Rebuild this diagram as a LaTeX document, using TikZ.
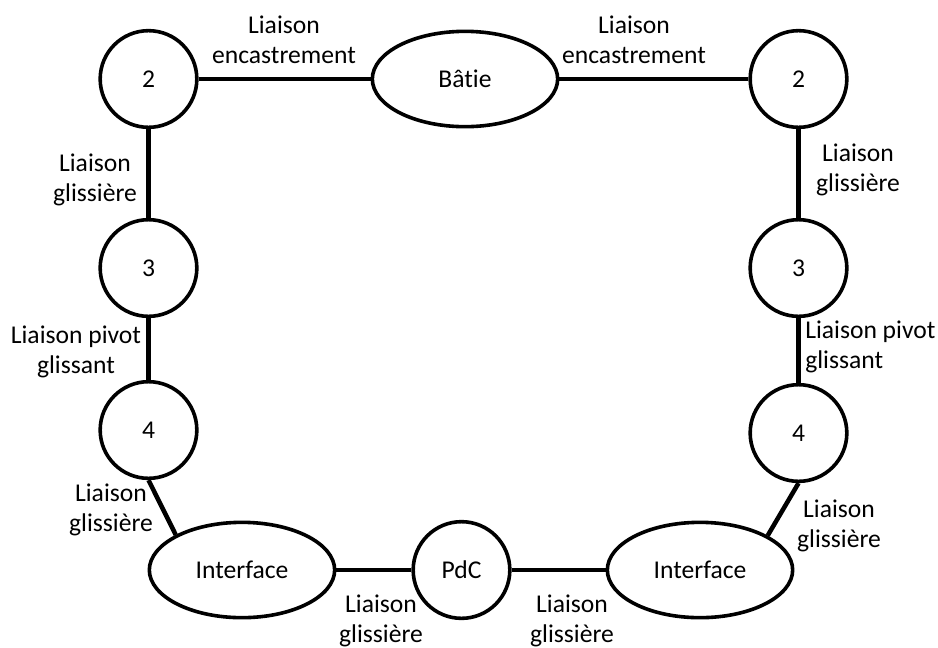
\documentclass[tikz,border=0pt]{standalone}
\usepackage{fontspec}
\setmainfont{Carlito}[Ligatures={NoCommon}]
\usetikzlibrary{shapes.geometric}
\begin{document}
\begin{tikzpicture}[x=0.75pt,y=-0.75pt,
  every node/.style={font=\fontsize{19.2}{22.5}\selectfont},
  part/.style={draw=black,line width=2.7pt,circle,minimum size=72.5pt,inner sep=0pt,fill=white},
  oval/.style={draw=black,line width=2.7pt,ellipse,minimum width=139pt,minimum height=71.5pt,inner sep=0pt,fill=white},
  lbl/.style={align=center,inner sep=0pt},
  link/.style={line width=3.4pt,draw=black}]
\useasboundingbox (0,0) rectangle (938,647);
% nodes
\node[part] (L2) at (148.5,79) {2};
\node[part] (L3) at (148.5,268) {3};
\node[part] (L4) at (148.5,430) {4};
\node[part] (R2) at (798.5,79) {2};
\node[part] (R3) at (798.5,268) {3};
\node[part] (R4) at (798.5,433) {4};
\node[oval] (B) at (465,79) {Bâtie};
\node[oval] (IL) at (242,570) {Interface};
\node[oval] (IR) at (700,570) {Interface};
\node[part] (P) at (461.5,570) {PdC};
% connectors
\draw[link] (L2) -- (B);
\draw[link] (B) -- (R2);
\draw[link] (L2) -- (L3);
\draw[link] (L3) -- (L4);
\draw[link] (L4.south) -- (IL.152);
\draw[link] (IL) -- (P);
\draw[link] (P) -- (IR);
\draw[link] (IR.27) -- (R4.south);
\draw[link] (R4) -- (R3);
\draw[link] (R3) -- (R2);
% labels
\node[lbl] (encL) at (284,40) {Liaison\\encastrement};
\node[lbl] (encR) at (634,40) {Liaison\\encastrement};
\node[lbl] (gL1) at (95,180) {Liaison\\glissière};
\node[lbl] (gR1) at (858,170) {Liaison\\glissière};
\node[lbl] (pgL) at (76,352) {Liaison pivot\\glissant};
\node[lbl,align=left,anchor=west] (pgR) at (805,347) {Liaison pivot\\glissant};
\node[lbl] (gL2) at (111,510) {Liaison\\glissière};
\node[lbl] (gR2) at (839,526) {Liaison\\glissière};
\node[lbl] (gB1) at (381,621) {Liaison\\glissière};
\node[lbl] (gB2) at (572,621) {Liaison\\glissière};
\end{tikzpicture}
\end{document}
